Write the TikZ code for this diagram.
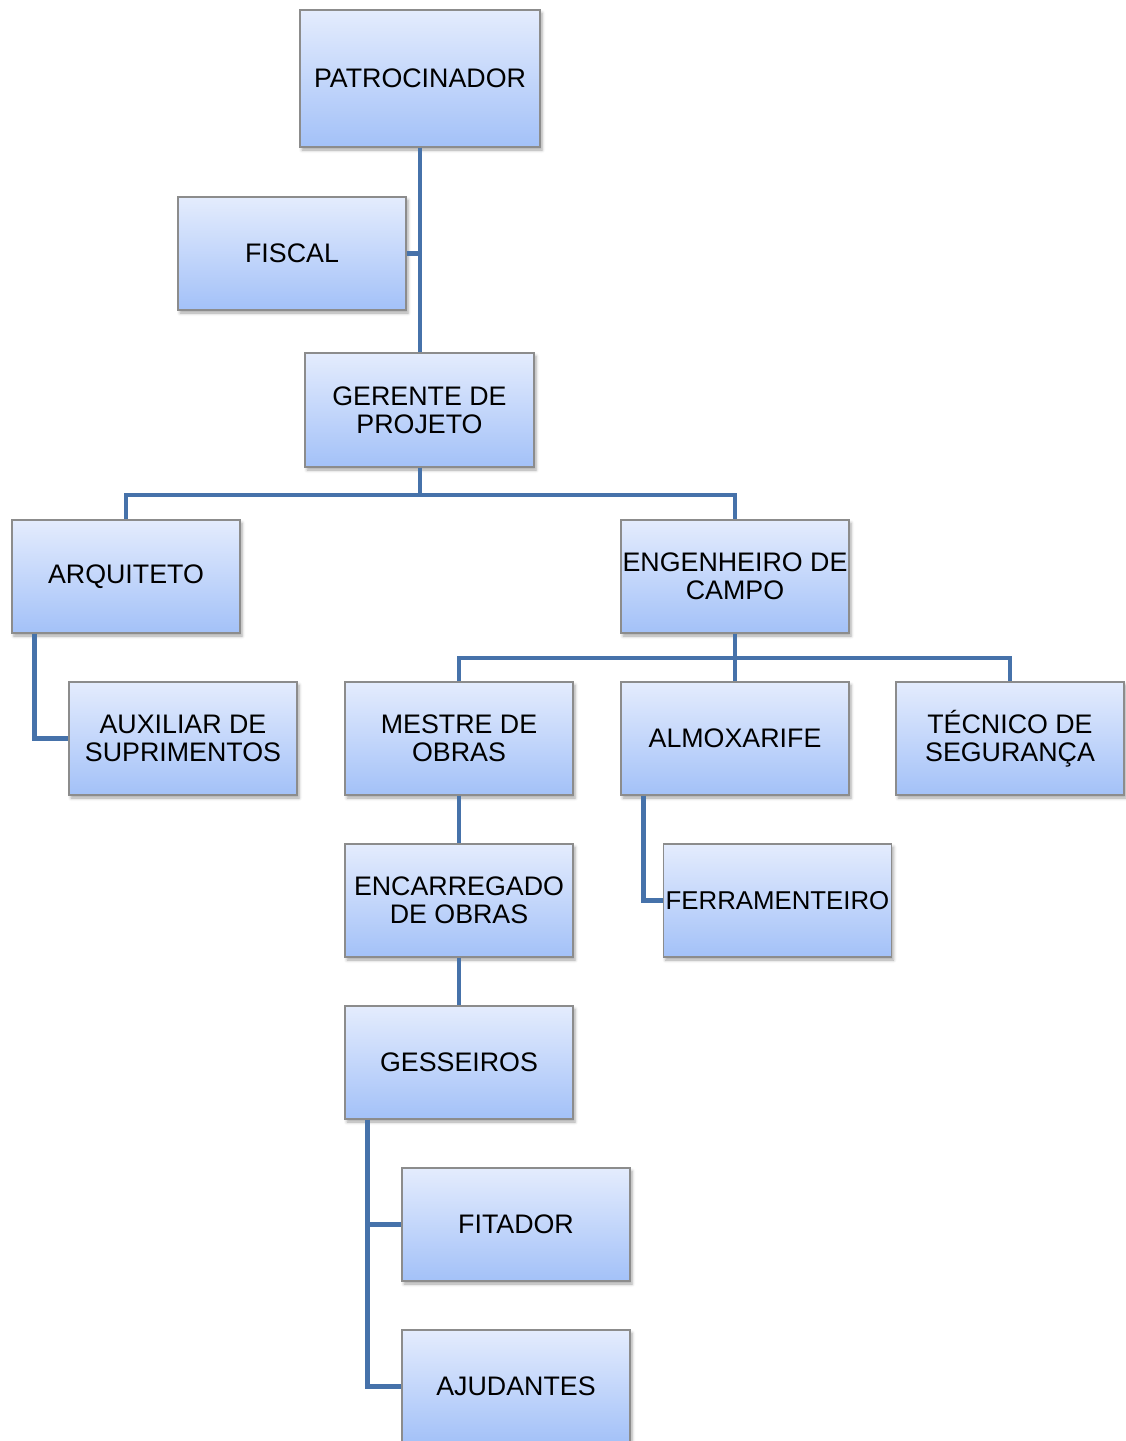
\documentclass[tikz,border=0pt]{standalone}
\usepackage{fontspec}
\setmainfont{Liberation Sans}
\usetikzlibrary{shadows.blur}
\definecolor{linkblue}{RGB}{70,114,170}
\definecolor{boxtop}{RGB}{228,236,253}
\definecolor{boxbottom}{RGB}{163,193,248}
\definecolor{boxedge}{RGB}{140,140,140}
\begin{document}
\begin{tikzpicture}[x=0.5pt,y=-0.5pt,
  orgbox/.style={draw=boxedge, line width=0.6pt, top color=boxtop, bottom color=boxbottom,
    minimum width=114pt, minimum height=56.5pt, inner sep=0pt, align=center,
    font=\fontsize{13.4}{14}\selectfont,
    blur shadow={shadow xshift=1pt, shadow yshift=-1.5pt, shadow blur radius=1.5pt, shadow opacity=35}},
  link/.style={draw=linkblue, line width=2.3pt}]

% boxes
\node[orgbox, minimum width=120pt, minimum height=68.5pt] (pat) at (420,78.5) {PATROCINADOR};
\node[orgbox] (fis) at (292,253.5) {FISCAL};
\node[orgbox, minimum width=114.5pt, minimum height=57pt] (ger) at (419.5,410) {GERENTE DE\\PROJETO};
\node[orgbox] (arq) at (126,576.5) {ARQUITETO};
\node[orgbox] (eng) at (735,576.5) {ENGENHEIRO DE\\CAMPO};
\node[orgbox] (aux) at (183,738.5) {AUXILIAR DE\\SUPRIMENTOS};
\node[orgbox] (mes) at (459,738.5) {MESTRE DE\\OBRAS};
\node[orgbox] (alm) at (735,738.5) {ALMOXARIFE};
\node[orgbox] (tec) at (1010,738.5) {TÉCNICO DE\\SEGURANÇA};
\node[orgbox] (enc) at (459,900.5) {ENCARREGADO\\DE OBRAS};
\node[orgbox, font=\fontsize{12.9}{14}\selectfont] (fer) at (777.5,900.5) {FERRAMENTEIRO};
\node[orgbox] (ges) at (459,1062.5) {GESSEIROS};
\node[orgbox] (fit) at (516,1224.5) {FITADOR};
\node[orgbox] (aju) at (516,1386.5) {AJUDANTES};

% branch points
\coordinate (b1) at (420,495);
\coordinate (b2) at (735,658);

% connectors
\draw[link] (pat.south) -- (pat.south |- ger.north);
\draw[link] (fis.east) -- (fis.east -| pat.south);
\draw[link] (ger.south -| b1) -- (b1);
\draw[link] (arq.north) |- (b1) -| (eng.north);
\draw[link] ([xshift=11.5pt]arq.south west) |- (aux.west);
\draw[link] (eng.south) -- (b2);
\draw[link] (mes.north) |- (b2) -| (tec.north);
\draw[link] (b2) -- (alm.north);
\draw[link] (mes.south) -- (enc.north);
\draw[link] (enc.south) -- (ges.north);
\draw[link] ([xshift=11.5pt]alm.south west) |- (fer.west);
\draw[link] ([xshift=11.5pt]ges.south west) |- (aju.west);
\draw[link] ([xshift=11.5pt]ges.south west |- fit.west) -- (fit.west);

\pgfresetboundingbox
\useasboundingbox (0,0) rectangle (1125,1441);
\end{tikzpicture}
\end{document}
